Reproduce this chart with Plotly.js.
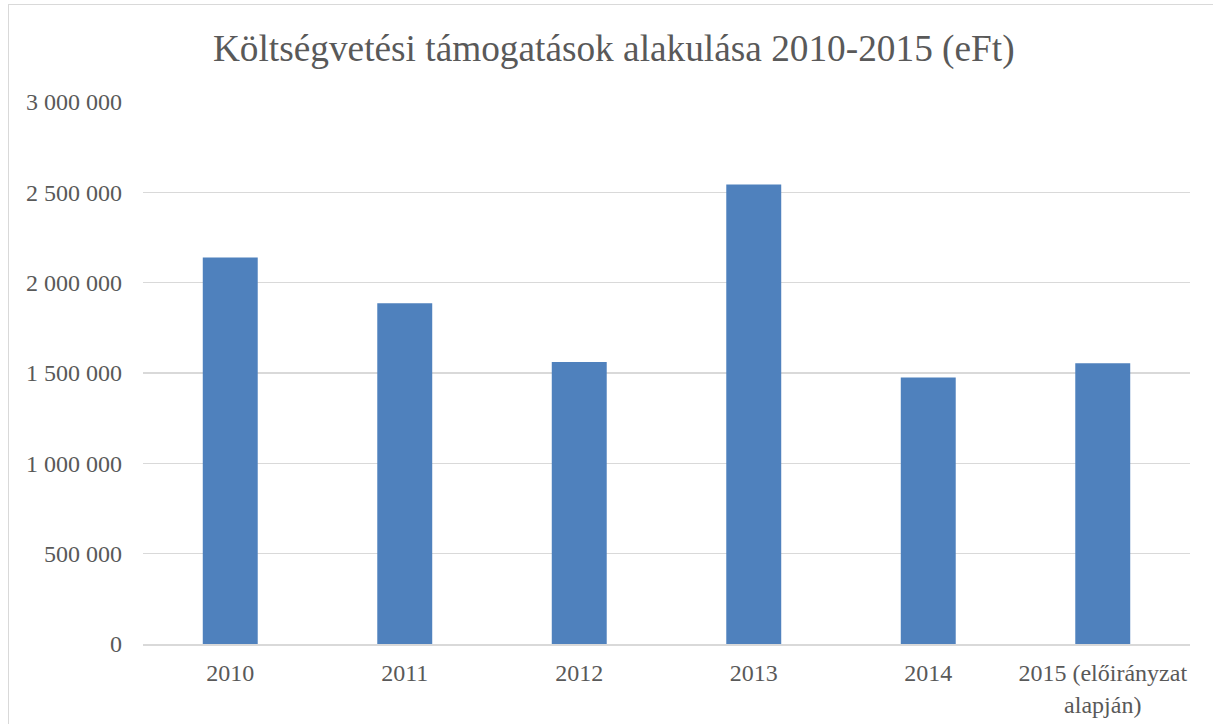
<!DOCTYPE html>
<html>
<head>
<meta charset="utf-8">
<script src="https://cdn.plot.ly/plotly-3.0.1.min.js"></script>
<style>
  html, body { margin: 0; padding: 0; background: #fff; overflow: hidden; }
  #wrap { position: relative; width: 1213px; height: 724px; }
  #chart { position: absolute; left: 0; top: 0; width: 1213px; height: 724px; }
  #frame { position: absolute; left: 8px; top: 4px; width: 1300px; height: 800px;
           border: 1.5px solid #d9d9d9; pointer-events: none; }
</style>
</head>
<body>
<div id="wrap">
  <div id="chart"></div>
  <div id="frame"></div>
</div>
<script>
const categories = ['2010', '2011', '2012', '2013', '2014', '2015 (előirányzat<br>alapján)'];
const values = [2139000, 1886000, 1561000, 2543000, 1475000, 1554000];
const yTicks = [0, 500000, 1000000, 1500000, 2000000, 2500000, 3000000];
const yTickLabels = ['0', '500 000', '1 000 000', '1 500 000', '2 000 000', '2 500 000', '3 000 000'];
const chartTitle = 'Költségvetési támogatások alakulása 2010-2015 (eFt)';

const font = '"Liberation Serif", "DejaVu Serif", serif';

const data = [{
  type: 'bar',
  x: categories,
  y: values,
  marker: { color: '#4f81bd', line: { width: 0 } },
  hoverinfo: 'x+y'
}];

const layout = {
  width: 1213,
  height: 724,
  margin: { l: 143, r: 23, t: 102, b: 80, pad: 0 },
  paper_bgcolor: '#ffffff',
  plot_bgcolor: '#ffffff',
  bargap: 0.685,
  showlegend: false,
  font: { family: font, color: '#595959', size: 24 },
  title: {
    text: chartTitle,
    font: { family: font, size: 37.3, color: '#595959' },
    x: 0.506, xanchor: 'center',
    y: 1 - 48 / 724, yanchor: 'middle', yref: 'container'
  },
  xaxis: {
    type: 'category',
    showgrid: false,
    showline: true,
    linecolor: '#d9d9d9',
    linewidth: 1.5,
    ticks: '',
    ticklabelstandoff: 7,
    tickfont: { family: font, size: 24, color: '#595959' },
    zeroline: false
  },
  yaxis: {
    range: [0, 3000000],
    tickmode: 'array',
    tickvals: yTicks,
    ticktext: yTickLabels,
    showgrid: true,
    gridcolor: '#d9d9d9',
    gridwidth: 1.5,
    zeroline: false,
    showline: false,
    ticks: '',
    ticklabelstandoff: 20,
    tickfont: { family: font, size: 24, color: '#595959' }
  }
};

Plotly.newPlot('chart', data, layout, { staticPlot: true, displayModeBar: false });
</script>
</body>
</html>
